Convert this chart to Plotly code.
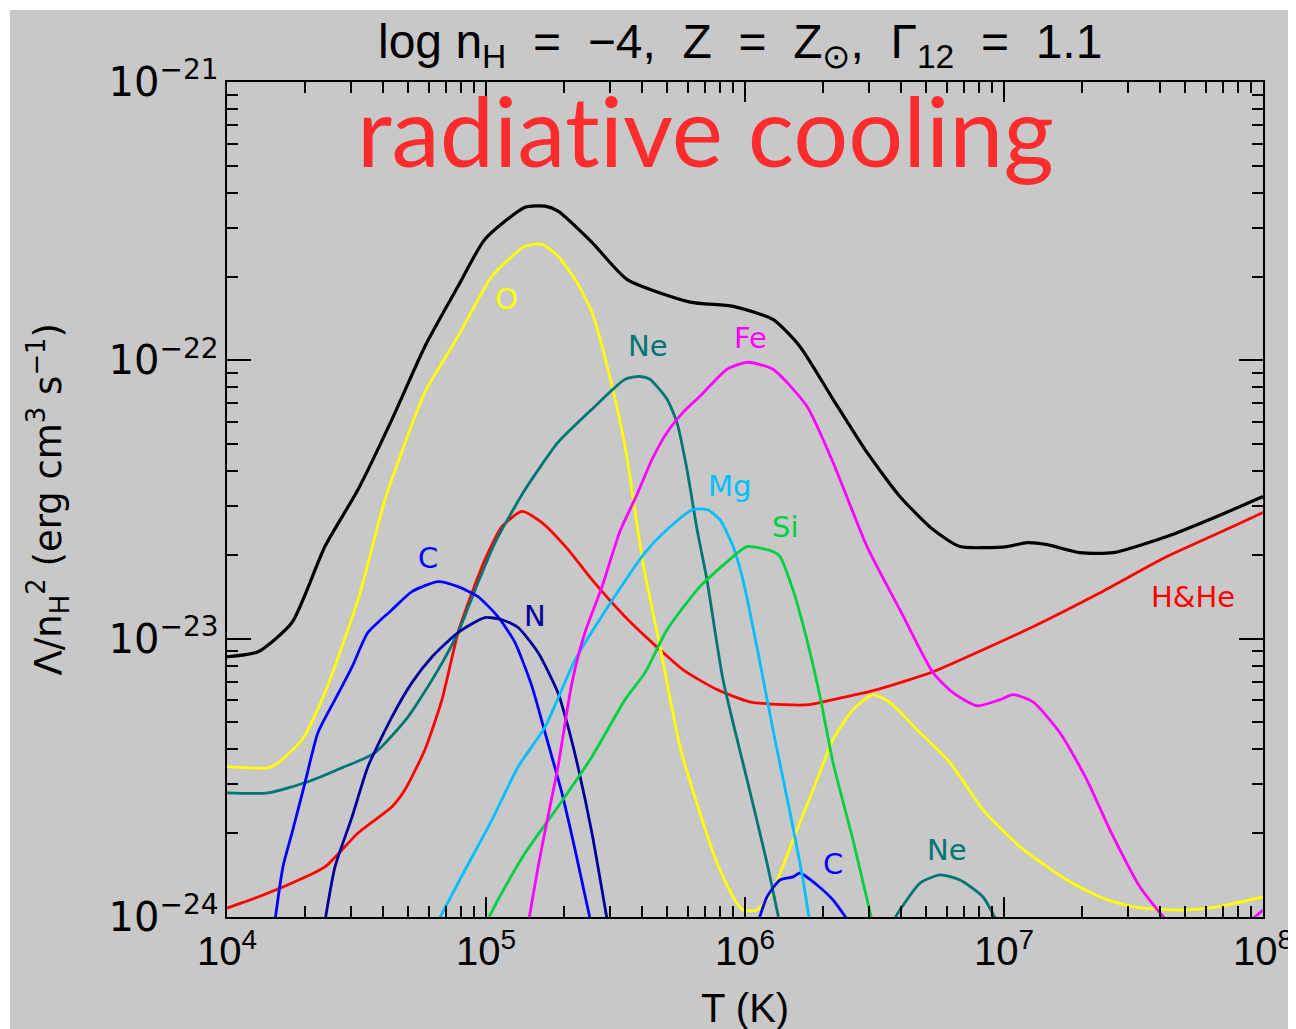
import plotly.graph_objects as go

# ---- data (log10 T, log10 Lambda/nH^2) ----
total_logT = [4.0, 4.12, 4.251, 4.378, 4.506, 4.637, 4.764, 4.892, 4.996, 5.151, 5.228, 5.278, 5.409, 5.544,
              5.788, 5.954, 6.108, 6.212, 6.34, 6.471, 6.598, 6.726, 6.83, 7.012, 7.089, 7.166, 7.293, 7.421,
              7.629, 7.822, 8.0]
total_logL = [-23.065, -23.047, -22.942, -22.669, -22.464, -22.212, -21.95, -21.734, -21.565, -21.45, -21.446,
              -21.464, -21.576, -21.709, -21.791, -21.806, -21.853, -21.95, -22.14, -22.331, -22.489, -22.608,
              -22.669, -22.669, -22.655, -22.662, -22.691, -22.691, -22.633, -22.561, -22.489]

O_logT = [4.0, 4.158, 4.197, 4.29, 4.378, 4.506, 4.61, 4.66, 4.764, 4.892, 5.023, 5.151, 5.216, 5.278, 5.344,
          5.409, 5.471, 5.537, 5.606, 5.672, 5.749, 5.826, 5.892, 5.954, 5.992, 6.046, 6.108, 6.185, 6.263,
          6.34, 6.417, 6.494, 6.56, 6.664, 6.792, 6.919, 7.062, 7.243, 7.371, 7.498, 7.691, 7.822, 8.0]
O_logL = [-23.46, -23.464, -23.446, -23.363, -23.194, -22.86, -22.5, -22.367, -22.115, -21.914, -21.698,
          -21.59, -21.583, -21.626, -21.709, -21.827, -22.032, -22.309, -22.727, -23.029, -23.388, -23.626,
          -23.806, -23.928, -23.975, -23.975, -23.903, -23.723, -23.543, -23.363, -23.255, -23.201, -23.23,
          -23.327, -23.446, -23.615, -23.748, -23.867, -23.928, -23.964, -23.975, -23.964, -23.928]

Ne_logT = [4.0, 4.158, 4.313, 4.444, 4.571, 4.699, 4.815, 4.892, 4.969, 5.035, 5.112, 5.151, 5.278, 5.409,
           5.537, 5.595, 5.633, 5.699, 5.737, 5.776, 5.815, 5.853, 5.915, 6.008, 6.085, 6.14,
           None, 6.55, 6.598, 6.676, 6.753, 6.83, 6.919, 6.99]
Ne_logL = [-23.554, -23.554, -23.514, -23.464, -23.41, -23.281, -23.112, -22.978, -22.799, -22.655, -22.525,
           -22.464, -22.295, -22.176, -22.068, -22.058, -22.068, -22.14, -22.223, -22.392, -22.608, -22.788,
           -23.147, -23.507, -23.806, -24.05,
           None, -24.05, -23.975, -23.878, -23.849, -23.867, -23.928, -24.05]

HHe_logT = [4.0, 4.12, 4.251, 4.378, 4.506, 4.637, 4.687, 4.764, 4.83, 4.892, 4.946, 4.996, 5.062, 5.139,
            5.216, 5.317, 5.409, 5.537, 5.672, 5.761, 5.892, 6.019, 6.147, 6.251, 6.34, 6.51, 6.726, 6.919,
            7.112, 7.371, 7.629, 7.884, 8.0]
HHe_logL = [-23.968, -23.928, -23.878, -23.82, -23.698, -23.604, -23.543, -23.399, -23.219, -22.978, -22.835,
            -22.716, -22.597, -22.543, -22.583, -22.68, -22.788, -22.921, -23.04, -23.112, -23.183, -23.227,
            -23.237, -23.237, -23.219, -23.183, -23.119, -23.04, -22.957, -22.835, -22.705, -22.597, -22.547]

C_logT = [4.18, 4.216, 4.251, 4.301, 4.351, 4.417, 4.483, 4.544, 4.637, 4.714, 4.815, 4.892, 4.969, 5.046,
          5.112, 5.178, 5.228, 5.293, 5.344, 5.412,
          None, 6.04, 6.085, 6.135, 6.185, 6.212, 6.278, 6.34, 6.425]
C_logL = [-24.05, -23.82, -23.698, -23.518, -23.338, -23.219, -23.101, -22.978, -22.896, -22.831, -22.795,
          -22.813, -22.849, -22.921, -23.014, -23.173, -23.338, -23.554, -23.759, -24.05,
          None, -24.05, -23.928, -23.867, -23.856, -23.842, -23.885, -23.939, -24.05]

N_logT = [4.372, 4.417, 4.483, 4.544, 4.637, 4.714, 4.792, 4.892, 4.996, 5.062, 5.124, 5.201, 5.278, 5.317,
          5.355, 5.409, 5.475]
N_logL = [-24.05, -23.82, -23.64, -23.46, -23.281, -23.158, -23.065, -22.978, -22.924, -22.932, -22.96,
          -23.05, -23.194, -23.317, -23.46, -23.698, -24.05]

Mg_logT = [4.795, 4.892, 5.023, 5.124, 5.228, 5.344, 5.471, 5.614, 5.699, 5.799, 5.853, 5.903, 5.954, 5.992,
           6.046, 6.108, 6.174, 6.224, 6.255]
Mg_logL = [-24.05, -23.878, -23.651, -23.46, -23.317, -23.076, -22.885, -22.691, -22.608, -22.536, -22.536,
           -22.572, -22.669, -22.788, -23.029, -23.327, -23.626, -23.867, -24.05]

Si_logT = [4.985, 5.046, 5.151, 5.278, 5.409, 5.537, 5.614, 5.699, 5.826, 5.954, 6.008, 6.108, 6.135, 6.185,
           6.239, 6.29, 6.34, 6.417, 6.5]
Si_logL = [-24.05, -23.939, -23.77, -23.604, -23.424, -23.219, -23.122, -22.968, -22.813, -22.705, -22.669,
           -22.687, -22.705, -22.824, -23.004, -23.209, -23.446, -23.723, -24.05]

Fe_logT = [5.158, 5.201, 5.239, 5.278, 5.332, 5.382, 5.448, 5.517, 5.583, 5.641, 5.699, 5.761, 5.826, 5.931,
           6.008, 6.108, 6.239, 6.34, 6.471, 6.598, 6.726, 6.803, 6.896, 6.985, 7.035, 7.112, 7.216, 7.32,
           7.409, 7.525, 7.66,
           None, 7.905, 8.0]
Fe_logL = [-24.05, -23.82, -23.64, -23.46, -23.158, -22.978, -22.813, -22.615, -22.482, -22.356, -22.259,
           -22.187, -22.129, -22.032, -22.007, -22.032, -22.165, -22.367, -22.669, -22.896, -23.122, -23.194,
           -23.241, -23.219, -23.201, -23.227, -23.338, -23.507, -23.687, -23.892, -24.05,
           None, -24.05, -23.975]

series = [
    ("H&He", HHe_logT, HHe_logL, "#ff0000"),
    ("O", O_logT, O_logL, "#ffff00"),
    ("Ne", Ne_logT, Ne_logL, "#007575"),
    ("C", C_logT, C_logL, "#0000ff"),
    ("N", N_logT, N_logL, "#00009c"),
    ("Mg", Mg_logT, Mg_logL, "#00bfff"),
    ("Si", Si_logT, Si_logL, "#00d040"),
    ("Fe", Fe_logT, Fe_logL, "#ff00ff"),
    ("total", total_logT, total_logL, "#000000"),
]

# curve labels: text, log T, log L, colour
labels = [
    ("O", 5.08, -21.78, "#ffff00"),
    ("Ne", 5.625, -21.95, "#007575"),
    ("Fe", 6.02, -21.92, "#ff00ff"),
    ("Mg", 5.94, -22.45, "#00bfff"),
    ("Si", 6.155, -22.6, "#00d040"),
    ("C", 4.775, -22.71, "#0000ff"),
    ("N", 5.19, -22.92, "#00009c"),
    ("H&He", 7.73, -22.85, "#ff0000"),
    ("C", 6.34, -23.81, "#0000ff"),
    ("Ne", 6.78, -23.76, "#007575"),
]

def delog(v):
    return [None if a is None else 10 ** a for a in v]

fig = go.Figure()
for name, lt, ll, col in series:
    fig.add_trace(go.Scatter(x=delog(lt), y=delog(ll), mode="lines", name=name,
                             line=dict(color=col, width=3.2 if name == "total" else 2.8,
                                       shape="spline", smoothing=0.6),
                             connectgaps=False, showlegend=False))

LAB_FONT = "Liberation Sans, Arial"
WIDE = "DejaVu Sans, Liberation Sans, Arial"
NARROW = "Liberation Sans Narrow, Liberation Sans, Arial"
for txt, lt, ll, col in labels:
    fig.add_annotation(x=lt, y=ll, xref="x", yref="y", text=txt, showarrow=False,
                       font=dict(family=WIDE, size=29, color=col))

GRAY = "#c8c8c8"
axis_common = dict(type="log", showline=True, linecolor="black", linewidth=2, mirror="ticks",
                   ticks="inside", tickcolor="black", tickwidth=2, showgrid=False, zeroline=False,
                   dtick=1, exponentformat="power", automargin=False,
                   minor=dict(ticks="inside", ticklen=11, tickwidth=2, tickcolor="black",
                              dtick="D1", showgrid=False))
fig.update_xaxes(range=[4, 8], ticklen=20, tickfont=dict(family=LAB_FONT, size=32, color="black"),
                 **axis_common)
fig.update_yaxes(range=[-24, -21], ticklen=24, tickfont=dict(family=WIDE, size=32, color="black"),
                 **axis_common)

# titles
fig.add_annotation(xref="paper", yref="paper", x=0.495, y=1.0443, yanchor="middle", showarrow=False,
                   text="log n<sub>H</sub>  =  \u22124,  Z  =  Z<sub>\u2299</sub>,  \u0393<sub>12</sub>  =  1.1",
                   font=dict(family=NARROW, size=48, color="black"))
fig.add_annotation(xref="paper", yref="paper", x=0.5, y=-0.109, yanchor="middle", showarrow=False,
                   text="T (K)", font=dict(family=NARROW, size=40, color="black"))
fig.add_annotation(xref="paper", yref="paper", x=-0.1728, y=0.5, xanchor="center", yanchor="middle",
                   showarrow=False, textangle=-90,
                   text="\u039b/n<sub>H</sub><sup>2</sup> (erg cm<sup>3</sup> s<sup>\u22121</sup>)",
                   font=dict(family=WIDE, size=37, color="black"))
fig.add_annotation(xref="paper", yref="paper", x=0.462, y=0.943, yanchor="middle", showarrow=False,
                   text="radiat\u200cive cooling", font=dict(family="Lato, Noto Sans", size=97, color="#fe2c2c"))

# thin white border strips at top and left (page margin supplies the rest)
fig.add_shape(type="rect", xref="paper", yref="paper", x0=-0.25, x1=-0.2095, y0=-0.2, y1=1.2,
              fillcolor="white", line_width=0)
fig.add_shape(type="rect", xref="paper", yref="paper", x0=-0.25, x1=1.1, y0=1.0862, y1=1.2,
              fillcolor="white", line_width=0)

fig.update_layout(width=1288, height=1021, paper_bgcolor=GRAY, plot_bgcolor=GRAY,
                  margin=dict(l=219, r=33, t=74, b=112, autoexpand=False), showlegend=False)

fig.write_html("out.html")
